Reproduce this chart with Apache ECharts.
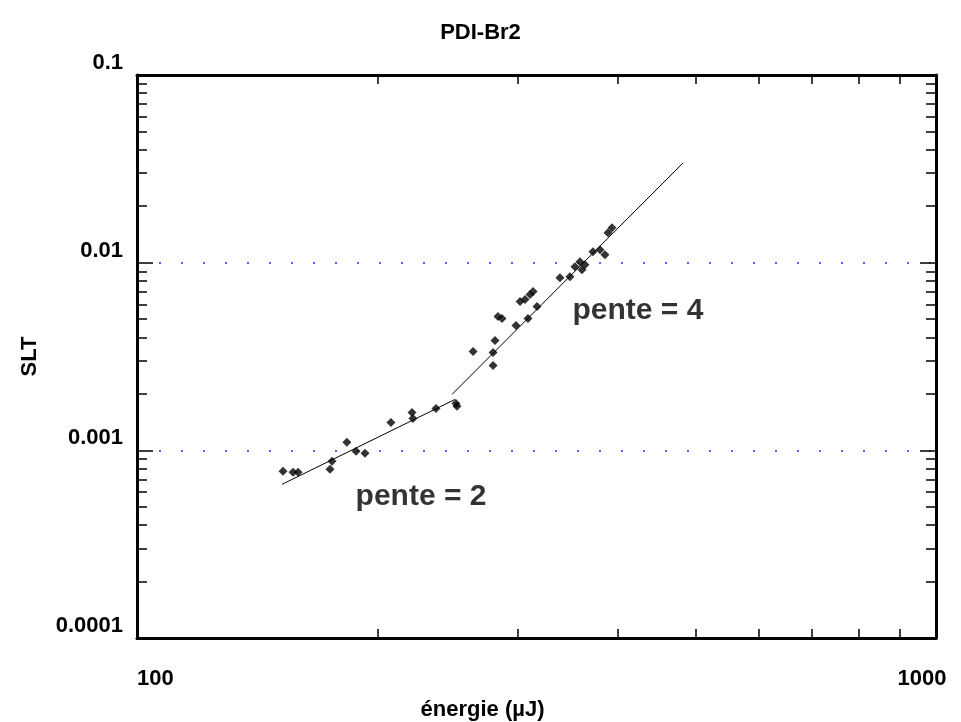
<!DOCTYPE html>
<html>
<head>
<meta charset="utf-8">
<title>PDI-Br2</title>
<script src="https://cdn.jsdelivr.net/npm/echarts@6/dist/echarts.min.js"></script>
<style>
  html, body { margin: 0; padding: 0; background: #fff; }
  #chart { width: 961px; height: 722px; }
</style>
</head>
<body>
<div id="chart"></div>
<script>
// mesures : énergie (µJ) et SLT
const energie = [152.3, 156.8, 159.1, 174.4, 175.4, 183.1, 188.0, 192.9, 207.9, 220.9,
  221.5, 236.7, 250.7, 251.5, 263.4, 279.0, 279.0, 280.6, 283.0, 286.3,
  298.1, 301.6, 305.9, 308.6, 310.4, 313.1, 316.7, 338.3, 348.2, 353.3,
  358.4, 360.5, 363.6, 372.1, 379.7, 385.2, 388.6, 393.1];
const slt = [0.000773, 0.000764, 0.000764, 0.000792, 0.000874, 0.001104, 0.000988, 0.000964, 0.001409, 0.001592,
  0.001480, 0.001672, 0.001778, 0.001715, 0.003363, 0.002831, 0.003319, 0.003846, 0.005161, 0.005036,
  0.004624, 0.006207, 0.006359, 0.005036, 0.006761, 0.007015, 0.005834, 0.008318, 0.008425, 0.009525,
  0.01012, 0.009181, 0.009758, 0.01144, 0.01173, 0.01103, 0.01444, 0.01535];

// droites d'ajustement (pente 2 et pente 4)
const fit2X = [151.9, 250.0];
const fit2Y = [0.000659, 0.001867];
const fit4X = [247.9, 482.5];
const fit4Y = [0.001986, 0.03404];

// graduations
const xLabels = [100, 1000];
const xMinor = [100, 200, 300, 400, 500, 600, 700, 800, 900, 1000];
const yLabels = [0.0001, 0.001, 0.01, 0.1];
const yMinor = [0.0002, 0.0003, 0.0004, 0.0005, 0.0006, 0.0007, 0.0008, 0.0009,
  0.002, 0.003, 0.004, 0.005, 0.006, 0.007, 0.008, 0.009,
  0.02, 0.03, 0.04, 0.05, 0.06, 0.07, 0.08, 0.09];

// annotations
const noteText = ['pente = 2', 'pente = 4'];
const noteX = [226.7, 423.6];
const noteY = [0.000569, 0.00556];

const zip = (a, b) => a.map((v, i) => [v, b[i]]);

const FONT = '"Liberation Sans", Arial, sans-serif';
const FS = 22;
const frame = { show: true, lineStyle: { color: '#000', width: 3 } };
const tickStyle = { color: '#000', width: 1.5 };

function xAx(pos, withLabels) {
  return {
    type: 'log', logBase: 10, min: 100, max: 1000, position: pos,
    axisLine: frame,
    axisTick: { show: true, inside: true, length: 9, lineStyle: tickStyle, customValues: xMinor },
    axisLabel: withLabels ? {
      show: true, customValues: xLabels, margin: 30,
      fontSize: FS, fontWeight: 'bold', fontFamily: FONT, color: '#000',
      formatter: v => v === 1000 ? '{r|1000}' : String(v),
      rich: { r: { fontSize: FS, fontWeight: 'bold', fontFamily: FONT, color: '#000', padding: [0, 28, 0, 0] } },
      alignMinLabel: 'left', alignMaxLabel: 'center'
    } : { show: false },
    splitLine: { show: false },
    name: withLabels ? 'énergie (µJ)' : '',
    nameLocation: 'middle', nameGap: 61,
    nameTextStyle: { fontSize: FS, fontWeight: 'bold', fontFamily: FONT, color: '#000', padding: [0, 108, 0, 0] }
  };
}

function yAx(pos, major, withLabels, grid) {
  return {
    type: 'log', logBase: 10, min: 0.0001, max: 0.1, position: pos,
    axisLine: major ? frame : { show: false },
    axisTick: { show: true, inside: true, length: major ? 16 : 10, lineStyle: tickStyle,
      customValues: major ? yLabels : yMinor },
    axisLabel: withLabels ? {
      show: true, customValues: yLabels, margin: 14,
      fontSize: FS, fontWeight: 'bold', fontFamily: FONT, color: '#000',
      verticalAlign: 'bottom', padding: [0, 0, 1, 0],
      formatter: v => String(v)
    } : { show: false },
    splitLine: grid ? { show: true, lineStyle: { color: '#2a2aff', type: [2, 20], width: 1.5 } } : { show: false },
    name: withLabels ? 'SLT' : '',
    nameLocation: 'middle', nameGap: 96, nameRotate: 90,
    nameTextStyle: { fontSize: FS, fontWeight: 'bold', fontFamily: FONT, color: '#000' }
  };
}

const chart = echarts.init(document.getElementById('chart'));
chart.setOption({
  animation: false,
  backgroundColor: '#fff',
  title: {
    text: 'PDI-Br2', left: 'center', top: 17,
    textStyle: { fontSize: FS, fontWeight: 'bold', fontFamily: FONT, color: '#000' }
  },
  grid: { left: 137, right: 25, top: 75, bottom: 84, outerBoundsMode: 'none' },
  xAxis: [xAx('bottom', true), xAx('top', false)],
  yAxis: [
    yAx('left', true, true, true),
    yAx('left', false, false, false),
    yAx('right', true, false, false),
    yAx('right', false, false, false)
  ],
  series: [
    {
      type: 'scatter', xAxisIndex: 0, yAxisIndex: 0,
      data: zip(energie, slt),
      symbol: 'diamond', symbolSize: 9,
      itemStyle: { color: '#000' }
    },
    {
      type: 'line', xAxisIndex: 0, yAxisIndex: 0,
      data: zip(fit2X, fit2Y), symbol: 'none',
      lineStyle: { color: '#000', width: 1 }
    },
    {
      type: 'line', xAxisIndex: 0, yAxisIndex: 0,
      data: zip(fit4X, fit4Y), symbol: 'none',
      lineStyle: { color: '#000', width: 1 }
    },
    {
      type: 'scatter', xAxisIndex: 0, yAxisIndex: 0,
      data: noteText.map((t, i) => ({ value: [noteX[i], noteY[i]], name: t })),
      symbolSize: 1, itemStyle: { color: 'rgba(0,0,0,0)' },
      label: {
        show: true, position: 'inside', formatter: p => p.name,
        fontSize: 30, fontWeight: 'bold', fontFamily: FONT, color: '#000'
      },
      silent: true
    }
  ]
});
</script>
</body>
</html>
